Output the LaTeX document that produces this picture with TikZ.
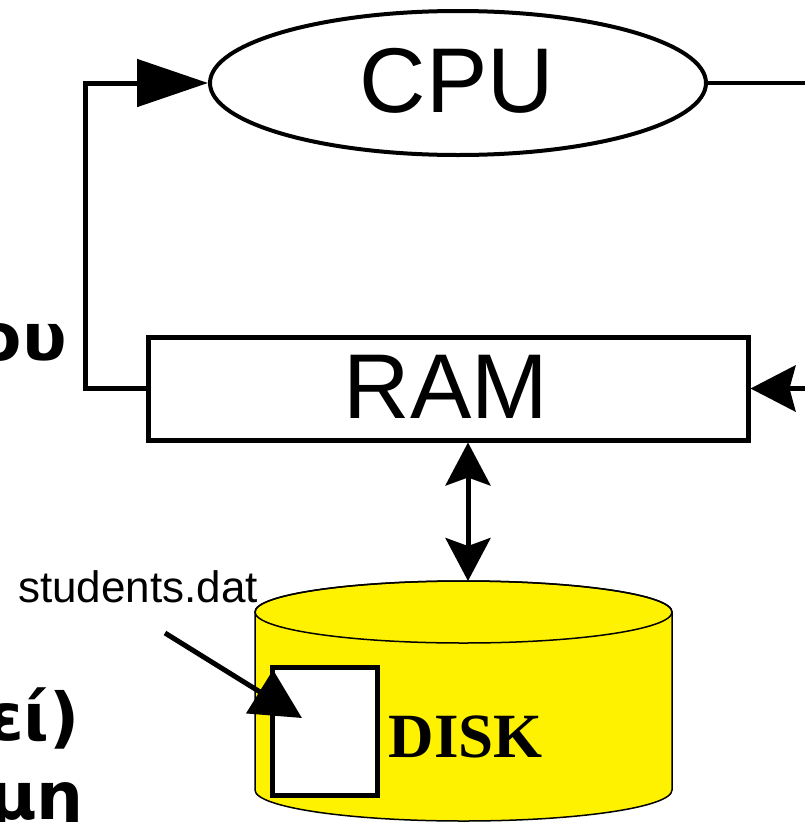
\documentclass[tikz,border=0pt]{standalone}
\usepackage{fontspec}
\setmainfont{Liberation Sans}
\newfontfamily\serifbold{Liberation Serif}
\newfontfamily\greekfont{DejaVu Sans}
\usetikzlibrary{arrows.meta,shapes.geometric}
\begin{document}
\begin{tikzpicture}[x=1pt,y=-1pt,line join=miter,
  bigtext/.style={font=\fontsize{92}{100}\selectfont,inner sep=0pt,anchor=base},
  greektext/.style={font=\greekfont\bfseries\fontsize{66}{72}\selectfont,inner sep=0pt,anchor=base east},
  conn/.style={line width=5pt},
  diskline/.style={line width=1.5pt},
]
\useasboundingbox (0,0) rectangle (805,822);
\clip (0,0) rectangle (805,822);

% CPU and RAM
\node[ellipse,draw,line width=4pt,minimum width=496pt,minimum height=144pt,inner sep=0pt] (cpu) at (458,83) {};
\node[bigtext] (cputext) at (457,112) {CPU};
\node[draw,line width=5pt,minimum width=600pt,minimum height=103pt,inner sep=0pt] (ram) at (448,388.5) {};
\node[bigtext] (ramtext) at (446,418) {RAM};

% free ends
\coordinate (outA) at (805,83);
\coordinate (outB) at (805,388.5);
\coordinate (bendLow) at (85,388.5);
\coordinate (bendHigh) at (85,83);

\draw[line width=4pt] (cpu.east) -- (outA);
\draw[conn,-{Triangle[length=71pt,width=47pt]}] (ram.west) -- (bendLow) -- (bendHigh) -- (cpu.west);
\draw[conn,-{Stealth[length=45pt,width=46pt,inset=6pt]}] (outB) -- (ram.east);

% disk
\coordinate (disktop) at (468,581);
\draw[diskline,fill=yellow] (255,612) -- (255,790)
  arc[start angle=180,end angle=0,x radius=208.5,y radius=31] -- (672,612)
  arc[start angle=0,end angle=-180,x radius=208.5,y radius=31] -- cycle;
\draw[diskline] (463.5,612) ellipse[x radius=208.5,y radius=31];
\node[anchor=base,inner sep=0pt,font=\serifbold\bfseries\fontsize{63}{70}\selectfont] (disklabel) at (466,757) {DISK};

\draw[conn,{Stealth[length=43pt,width=45pt,inset=8pt]}-{Stealth[length=43pt,width=45pt,inset=8pt]}] (ram.south -| disktop) -- (disktop);

% file
\node[draw,fill=white,line width=5pt,minimum width=105pt,minimum height=128pt,inner sep=0pt] (file) at (324.5,731) {};
\node[anchor=base west,inner sep=0pt,font=\fontsize{44}{50}\selectfont] (stud) at (18,602) {students.dat};
\coordinate (studfrom) at (165,633);
\coordinate (filetip) at (302,718);
\draw[conn,-{Triangle[length=50pt,width=50pt]}] (studfrom) -- (filetip);

% cropped Greek texts at the left edge
\node[greektext] (gA) at (67,360) {ου};
\node[greektext] (gB) at (80,740) {θεί)};
\node[greektext] (gC) at (84,819) {ημη};
\end{tikzpicture}
\end{document}
